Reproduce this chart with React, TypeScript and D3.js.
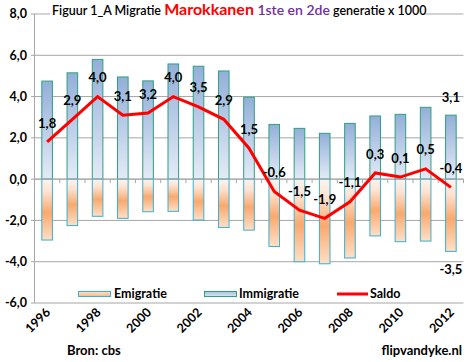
import React from "react";
import * as d3 from "d3";

const years = d3.range(1996, 2013).map(String);
const yearTicks = ["1996", "1998", "2000", "2002", "2004", "2006", "2008", "2010", "2012"];
const immigratie = [4.75, 5.15, 5.8, 4.95, 4.76, 5.58, 5.47, 5.24, 3.97, 2.65, 2.46, 2.22, 2.7, 3.06, 3.14, 3.48, 3.1];
const emigratie = [-2.95, -2.25, -1.8, -1.9, -1.58, -1.56, -1.98, -2.34, -2.47, -3.26, -4.0, -4.1, -3.82, -2.75, -3.03, -3.0, -3.5];
const saldo = [1.8, 2.9, 4.0, 3.1, 3.2, 4.0, 3.5, 2.9, 1.5, -0.6, -1.5, -1.9, -1.1, 0.3, 0.1, 0.5, -0.4];
const yTicks = [-6, -4, -2, 0, 2, 4, 6, 8];

const W = 469;
const H = 362;
const font = "Lato, 'Open Sans', sans-serif";
const fmt = (v: number) => v.toFixed(1).replace(".", ",");

export default function App() {
  const x = d3.scaleBand<string>().domain(years).range([34.5, 463.5]);
  const y = d3.scaleLinear().domain([-6, 8]).range([303, 14]);
  const bw = x.bandwidth() * 0.42;
  const cx = (yr: string) => (x(yr) as number) + x.bandwidth() / 2;

  const line = d3
    .line<number>()
    .x((_, i) => cx(years[i]))
    .y((d) => y(d));

  return (
    <svg
      width={W}
      height={H}
      style={{ position: "absolute", left: 0, top: 0, background: "#fff" }}
      fontFamily={font}
    >
      <defs>
        <linearGradient id="imm" x1="0" y1="0" x2="0" y2="1">
          <stop offset="0" stopColor="#93afd8" />
          <stop offset="0.5" stopColor="#bccde8" />
          <stop offset="1" stopColor="#e4ebf6" />
        </linearGradient>
        <linearGradient id="emi" x1="0" y1="0" x2="0" y2="1">
          <stop offset="0" stopColor="#fdf3ef" />
          <stop offset="0.2" stopColor="#fde3d3" />
          <stop offset="0.55" stopColor="#f9a96e" />
          <stop offset="1" stopColor="#fde0c8" />
        </linearGradient>
        <linearGradient id="immL" x1="0" y1="0" x2="0" y2="1">
          <stop offset="0" stopColor="#a9c0e1" />
          <stop offset="1" stopColor="#dce6f3" />
        </linearGradient>
        <linearGradient id="emiL" x1="0" y1="0" x2="0" y2="1">
          <stop offset="0" stopColor="#fde3d1" />
          <stop offset="1" stopColor="#f9b784" />
        </linearGradient>
      </defs>

      {/* grid */}
      {yTicks.map((t) => (
        <g key={t}>
          <line x1={31} x2={463.5} y1={y(t)} y2={y(t)} stroke="#a6a6a6" strokeWidth={1} />
          <text
            x={27}
            y={y(t)}
            dy="0.35em"
            textAnchor="end"
            fontSize={12.5}
            fontWeight="bold"
          >
            {fmt(t)}
          </text>
        </g>
      ))}
      <line x1={34.5} x2={34.5} y1={y(8)} y2={y(-6)} stroke="#a6a6a6" />

      {/* bars */}
      {years.map((yr, i) => (
        <g key={yr}>
          <rect
            x={cx(yr) - bw / 2}
            y={y(immigratie[i])}
            width={bw}
            height={y(0) - y(immigratie[i])}
            fill="url(#imm)"
            stroke="#2e9f80"
            strokeWidth={1}
          />
          <rect
            x={cx(yr) - bw / 2}
            y={y(0)}
            width={bw}
            height={y(emigratie[i]) - y(0)}
            fill="url(#emi)"
            stroke="#3bb0cf"
            strokeWidth={1}
          />
        </g>
      ))}

      {/* category axis at zero */}
      <line x1={34.5} x2={463.5} y1={y(0)} y2={y(0)} stroke="#a6a6a6" />
      {years.map((yr) => (
        <line
          key={yr}
          x1={(x(yr) as number) + x.bandwidth()}
          x2={(x(yr) as number) + x.bandwidth()}
          y1={y(0)}
          y2={y(0) + 4}
          stroke="#a6a6a6"
        />
      ))}

      {/* saldo line */}
      <path d={line(saldo) || ""} fill="none" stroke="#ff0000" strokeWidth={3} strokeLinejoin="miter" />

      {/* data labels */}
      {years.map((yr, i) => (
        <text
          key={yr}
          x={cx(yr)}
          y={y(saldo[i]) - 19}
          dy="0.35em"
          textAnchor="middle"
          fontSize={13}
          fontWeight="bold"
        >
          {fmt(saldo[i])}
        </text>
      ))}
      <text
        x={cx("2012")}
        y={y(immigratie[16]) - 18}
        dy="0.35em"
        textAnchor="middle"
        fontSize={13}
        fontWeight="bold"
      >
        {fmt(immigratie[16])}
      </text>
      <text
        x={cx("2012")}
        y={y(emigratie[16]) + 18}
        dy="0.35em"
        textAnchor="middle"
        fontSize={13}
        fontWeight="bold"
      >
        {fmt(emigratie[16])}
      </text>

      {/* x tick labels */}
      {yearTicks.map((yr) => (
        <text
          key={yr}
          transform={`translate(${cx(yr) + 4},${313}) rotate(-45)`}
          textAnchor="end"
          fontSize={12.5}
          fontWeight="bold"
        >
          {yr}
        </text>
      ))}

      {/* legend */}
      <rect x={78.5} y={291.5} width={32} height={5} fill="url(#emiL)" stroke="#3bb0cf" />
      <text x={114} y={294} dy="0.35em" fontSize={12.5} fontWeight="bold">
        Emigratie
      </text>
      <rect x={204.5} y={291.5} width={32} height={5} fill="url(#immL)" stroke="#2e9f80" />
      <text x={239} y={294} dy="0.35em" fontSize={12.5} fontWeight="bold">
        Immigratie
      </text>
      <line x1={337} x2={368} y1={294} y2={294} stroke="#ff0000" strokeWidth={3} />
      <text x={370} y={294} dy="0.35em" fontSize={12.5} fontWeight="bold">
        Saldo
      </text>

      {/* title */}
      <rect x={50} y={3} width={374} height={17} fill="#fff" />
      <text x={52} y={15} fontSize={12.5} fontWeight="600">
        <tspan fill="#000">Figuur 1_A Migratie </tspan>
        <tspan fill="#ff0000" fontSize={16} fontWeight="bold">
          Marokkanen
        </tspan>
        <tspan fill="#7030a0" fontSize={14}>
          {" 1ste en 2de"}
        </tspan>
        <tspan fill="#000">{" generatie x 1000"}</tspan>
      </text>

      {/* footer */}
      <text x={67} y={355} fontSize={13} fontWeight="bold">
        Bron: cbs
      </text>
      <text x={462} y={355} textAnchor="end" fontSize={13} fontWeight="bold">
        flipvandyke.nl
      </text>
    </svg>
  );
}
